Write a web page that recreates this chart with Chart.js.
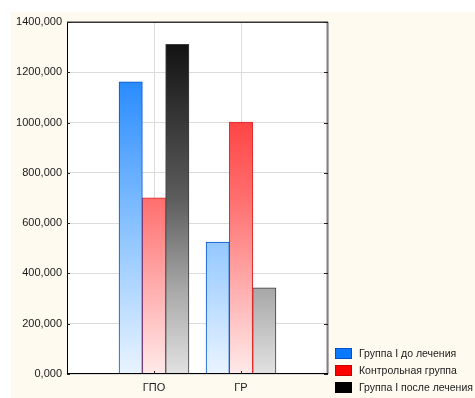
<!DOCTYPE html>
<html>
<head>
<meta charset="utf-8">
<style>
  html, body { margin: 0; padding: 0; background: #ffffff; }
  #wrap { width: 475px; height: 398px; position: relative; }
</style>
<script src="https://cdn.jsdelivr.net/npm/chart.js@4.4.1/dist/chart.umd.min.js"></script>
</head>
<body>
<div id="wrap"><canvas id="c" width="475" height="398"></canvas></div>
<script>
// Groups on the x axis
const categories = ['ГПО', 'ГР'];

// Series values
const seriesNames = ['Группа I до лечения', 'Контрольная группа', 'Группа I после лечения'];
const groupIBefore = [1162, 525];
const controlGroup = [701, 1002];
const groupIAfter = [1311, 343];

// Y axis ticks
const yMin = 0;
const yMax = 1400;
const yStep = 200;

// Colour ramps (top of plot → bottom of plot) and flat legend swatches
const ramps = [
  [[0, '#1080ff'], [0.17, '#2a8cff'], [0.62, '#92c7ff'], [1, '#eaf4ff']],
  [[0, '#ff2020'], [0.28, '#ff4444'], [0.5, '#ff6e6e'], [0.62, '#ff8c8c'], [1, '#ffeaea']],
  [[0, '#0a0a0a'], [0.06, '#121212'], [0.5, '#5c5c5c'], [0.76, '#a8a8a8'], [1, '#e2e2e2']]
];
const borders = ['#0052d0', '#e02828', '#3c3c3c'];
const swatches = ['#0a78ff', '#ff0000', '#000000'];
const swatchBorders = ['#0050c0', '#c80000', '#000000'];

// Empty slots either side so each group sits one bin in from the frame
const labels = [''].concat(categories, ['']);
const pad = arr => [null].concat(arr, [null]);

function ramp(i) {
  return function (ctx) {
    const chart = ctx.chart;
    const a = chart.chartArea;
    if (!a) return swatches[i];
    const g = chart.ctx.createLinearGradient(0, a.top, 0, a.bottom);
    ramps[i].forEach(s => g.addColorStop(s[0], s[1]));
    return g;
  };
}

const values = [groupIBefore, controlGroup, groupIAfter];
const datasets = values.map((v, i) => ({
  label: seriesNames[i],
  data: pad(v),
  backgroundColor: ramp(i),
  borderColor: borders[i],
  borderWidth: 1,
  borderSkipped: 'bottom',
  barThickness: 23.3
}));

const FONT = 'Arial, "Liberation Sans", sans-serif';

// Cream page, white plot, frame, inner tick marks and legend
const decor = {
  id: 'decor',
  beforeDraw(chart) {
    const c = chart.ctx, a = chart.chartArea;
    c.save();
    c.fillStyle = '#ffffff';
    c.fillRect(0, 0, chart.width, chart.height);
    c.fillStyle = '#fffaf0';
    c.fillRect(11, 12, chart.width - 11, chart.height - 12);
    c.fillStyle = '#ffffff';
    c.fillRect(a.left, a.top, a.right - a.left, a.bottom - a.top);
    c.restore();
  },
  afterDraw(chart) {
    const c = chart.ctx, a = chart.chartArea;
    const y = chart.scales.y, x = chart.scales.x;
    c.save();
    // frame
    c.lineWidth = 2;
    c.strokeStyle = '#808080';
    c.beginPath(); c.moveTo(a.right - 0.5, a.top); c.lineTo(a.right - 0.5, a.bottom); c.stroke();
    c.strokeStyle = '#333333';
    c.lineWidth = 1.5;
    c.beginPath(); c.moveTo(a.left, a.top + 0.25); c.lineTo(a.right, a.top + 0.25); c.stroke();
    c.lineWidth = 1;
    c.strokeStyle = '#000000';
    c.beginPath(); c.moveTo(a.left + 0.5, a.top); c.lineTo(a.left + 0.5, a.bottom); c.stroke();
    c.beginPath(); c.moveTo(a.left, a.bottom - 0.5); c.lineTo(a.right, a.bottom - 0.5); c.stroke();
    // inner tick marks
    c.strokeStyle = '#222222';
    for (let v = yMin; v <= yMax; v += yStep) {
      const py = Math.round(y.getPixelForValue(v)) + 0.5;
      c.beginPath(); c.moveTo(a.left, py); c.lineTo(a.left + 3, py); c.stroke();
      c.beginPath(); c.moveTo(a.right - 4, py); c.lineTo(a.right, py); c.stroke();
    }
    categories.forEach((_, i) => {
      const px = Math.round(x.getPixelForValue(i + 1)) + 0.5;
      c.beginPath(); c.moveTo(px, a.bottom); c.lineTo(px, a.bottom - 3); c.stroke();
    });
    // legend
    c.font = '10.5px ' + FONT;
    c.textBaseline = 'middle';
    c.textAlign = 'left';
    seriesNames.forEach((name, i) => {
      const ty = 348 + i * 17;
      c.fillStyle = swatches[i];
      c.fillRect(335, ty, 17, 11);
      c.strokeStyle = swatchBorders[i];
      c.strokeRect(335.5, ty + 0.5, 16, 10);
      c.fillStyle = '#1a1a1a';
      c.fillText(name, 359, ty + 6);
    });
    c.restore();
  }
};

new Chart(document.getElementById('c'), {
  type: 'bar',
  data: { labels, datasets },
  options: {
    responsive: false,
    animation: false,
    events: [],
    layout: { padding: { left: 0, top: 22, right: 147, bottom: 0 } },
    plugins: { legend: { display: false }, tooltip: { enabled: false } },
    scales: {
      x: {
        type: 'category',
        offset: false,
        grid: { color: '#dcdcdc', lineWidth: 1, drawTicks: false, offset: false },
        border: { display: false },
        ticks: { color: '#1a1a1a', font: { family: FONT, size: 11 }, padding: 7, maxRotation: 0, autoSkip: false },
        afterFit(s) { s.height = 24; }
      },
      y: {
        min: yMin,
        max: yMax,
        grid: { color: '#dcdcdc', lineWidth: 1, drawTicks: false },
        border: { display: false },
        ticks: {
          stepSize: yStep,
          color: '#1a1a1a',
          font: { family: FONT, size: 11 },
          padding: 5,
          callback: v => v.toFixed(3).replace('.', ',')
        },
        afterFit(s) { s.width = 67; }
      }
    }
  },
  plugins: [decor]
});
</script>
</body>
</html>
